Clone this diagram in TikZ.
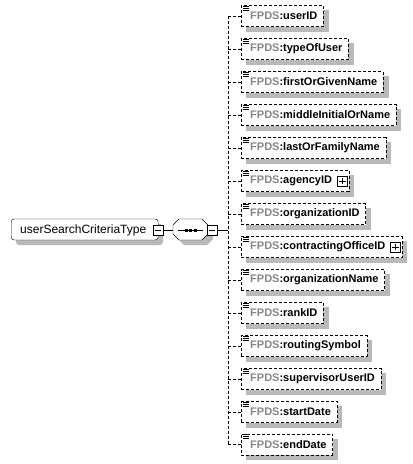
\documentclass[tikz,border=0pt]{standalone}
\usepackage{fontspec}
\setmainfont{Liberation Sans}
\usetikzlibrary{calc}
\pgfdeclarelayer{bg}
\pgfsetlayers{bg,main}
\definecolor{shadowgray}{RGB}{185,185,185}
\definecolor{prefixgray}{RGB}{135,135,135}
\tikzset{
  x=1pt,y=-1pt,
  elem/.style={draw=black,dash pattern=on 3pt off 2pt,fill=white,anchor=west,
    font=\fontsize{11}{13}\selectfont\bfseries,inner xsep=0pt,inner ysep=0pt,
    minimum height=21pt},
  conn/.style={draw=black,dash pattern=on 3pt off 2pt},
  solidconn/.style={draw=black},
  pluss/.style={draw=black,fill=white,minimum size=10pt,inner sep=0pt},
  shadowfill/.style={fill=shadowgray},
}
\newcommand{\pfx}{\textcolor{prefixgray}{FPDS}:}
\begin{document}
\begin{tikzpicture}
\useasboundingbox (0,0) rectangle (413,464);
% vertical line
\coordinate (vt) at (228,16);
\coordinate (vb) at (228,444.5);
\draw[conn] (vt) -- (vb);
% element rows
\foreach \lab/\yy/\nm/\extra in {
  userID/16/e1/0, typeOfUser/49/e2/0, firstOrGivenName/82/e3/0,
  middleInitialOrName/115/e4/0, lastOrFamilyName/148/e5/0,
  agencyID/181/e6/11, organizationID/214/e7/0,
  contractingOfficeID/247/e8/11, organizationName/280/e9/0,
  rankID/313/e10/0, routingSymbol/346/e11/0,
  supervisorUserID/379/e12/0, startDate/412/e13/0, endDate/444.5/e14/0}
{
  \node[elem] (\nm) at (241,\yy) {\hspace*{9pt}\pfx\lab\hspace*{6pt}\hspace*{\extra pt}};
  \begin{pgfonlayer}{bg}
    \fill[shadowfill] ($(\nm.north west)+(5,5)$) rectangle ($(\nm.south east)+(5,5)$);
  \end{pgfonlayer}
  \coordinate (\nm c) at (228,\yy);
  \draw[conn] (\nm c) -- (\nm.west);
  % icon
  \foreach \dy in {0,2,4} {\draw[line width=0.75pt] ($(\nm.north west)+(1.5,1+\dy)$) -- ++(6,0);}
}
% plus boxes
\node[pluss] (p1) at ($(e6.east)+(-7,0)$) {};
\draw ($(p1.west)+(2,0)$) -- ($(p1.east)+(-2,0)$) ($(p1.north)+(0,2)$) -- ($(p1.south)+(0,-2)$);
\node[pluss] (p2) at ($(e8.east)+(-7,0)$) {};
\draw ($(p2.west)+(2,0)$) -- ($(p2.east)+(-2,0)$) ($(p2.north)+(0,2)$) -- ($(p2.south)+(0,-2)$);
% main box
\fill[shadowfill,rounded corners=3pt] (16,224) rectangle (163,245);
\node[draw=black,fill=white,rounded corners=3pt,minimum width=147pt,minimum height=21pt,anchor=west,inner sep=0pt] (main) at (11,229.5) {};
\node[anchor=west,font=\fontsize{12}{14}\selectfont,inner sep=0pt] (maint) at (20,230) {userSearchCriteriaType};
\node[pluss] (m1) at (158,230.5) {};
\draw ($(m1.west)+(2,0)$) -- ($(m1.east)+(-2,0)$);
% sequence octagon
\fill[shadowfill] (178+6,224) -- (213-6,224) -- (213,230) -- (213,239) -- (213-6,245) -- (178+6,245) -- (178,239) -- (178,230) -- cycle;
\draw[fill=white] (173+6,219) -- (208-6,219) -- (208,225) -- (208,234) -- (208-6,240) -- (173+6,240) -- (173,234) -- (173,225) -- cycle;
\coordinate (sl) at (173,230.5);
\draw (178,230.5) -- (203,230.5);
\foreach \dx in {186,190.5,195} {\fill (\dx-1.5,229) rectangle (\dx+1.5,232);}
\node[pluss] (m2) at (212,230.5) {};
\draw ($(m2.west)+(2,0)$) -- ($(m2.east)+(-2,0)$);
\coordinate (vj) at (228,230.5);
\draw[solidconn] (m1.east) -- (sl);
\draw[solidconn] (m2.east) -- (vj);
\end{tikzpicture}
\end{document}
